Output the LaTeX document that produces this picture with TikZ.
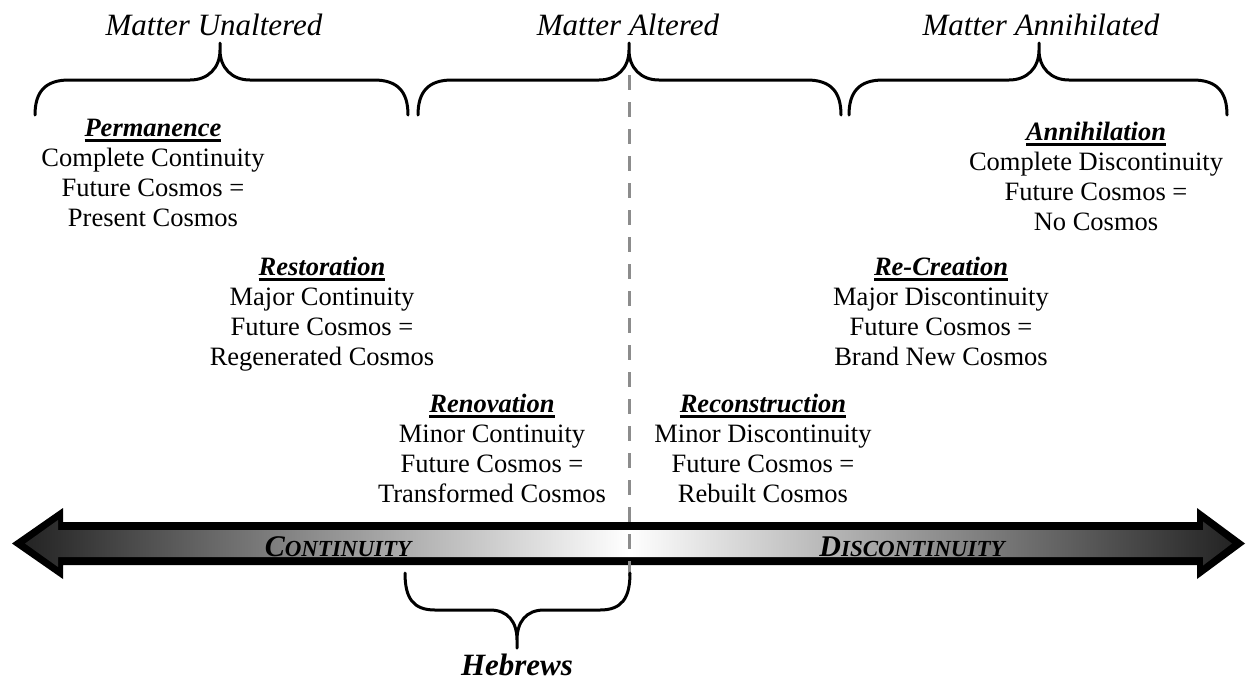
\documentclass[tikz,border=0pt]{standalone}
\usepackage{fontspec}
\setmainfont{Liberation Serif}
\newsavebox\ulbox
% bold italic heading with a thick rule under it
\newcommand\headword[1]{\sbox\ulbox{\bfseries\itshape #1}\rlap{\usebox\ulbox}\rule[-5.5pt]{\wd\ulbox}{2.6pt}}
% fake small caps: large initial, smaller remaining capitals
\newcommand\scword[2]{{\fontsize{30}{30}\selectfont #1}{\fontsize{23}{23}\selectfont #2}}
% curly brace opening downward: left x, right x, tip x
\newcommand\topbrace[3]{%
  \draw[brace] (#1,115) .. controls (#1,92) and ({#1+10},80) .. ({#1+34},80)
    -- ({#3-30},80) .. controls ({#3-12},80) and (#3,68) .. (#3,50) -- (#3,43)
    (#3,50) .. controls (#3,68) and ({#3+12},80) .. ({#3+30},80)
    -- ({#2-34},80) .. controls ({#2-10},80) and (#2,92) .. (#2,115);}
\begin{document}
\begin{tikzpicture}[x=1pt,y=-1pt,
  brace/.style={line width=3pt,line cap=round},
  toplabel/.style={font=\fontsize{31}{34}\selectfont\itshape,anchor=base,inner sep=0pt},
  block/.style={align=center,anchor=north,inner sep=0pt,font=\fontsize{26.5}{30}\selectfont},
  barlabel/.style={font=\bfseries\itshape,anchor=base,inner sep=0pt},
  divider/.style={draw=black!45,line width=3pt,dash pattern=on 15pt off 12pt}]
\useasboundingbox (0,0) rectangle (1247,681);

% headings over the braces
\node[toplabel] (unaltered) at (214,35) {Matter Unaltered};
\node[toplabel] (altered) at (628,35) {Matter Altered};
\node[toplabel] (annihilated) at (1041,35) {Matter Annihilated};

% the three upper braces
\topbrace{35}{408}{220}
\topbrace{418}{841}{629}
\topbrace{849}{1227}{1039}

% the six views
\node[block] (permanence) at (153,119) {\headword{Permanence}\\Complete Continuity\\Future Cosmos =\\Present Cosmos};
\node[block] (annihilation) at (1096,122) {\headword{Annihilation}\\Complete Discontinuity\\Future Cosmos =\\No Cosmos};
\node[block] (restoration) at (322,257) {\headword{Restoration}\\Major Continuity\\Future Cosmos =\\Regenerated Cosmos};
\node[block] (recreation) at (941,257) {\headword{Re-Creation}\\Major Discontinuity\\Future Cosmos =\\Brand New Cosmos};
\node[block] (renovation) at (492,394) {\headword{Renovation}\\Minor Continuity\\Future Cosmos =\\Transformed Cosmos};
\node[block] (reconstruction) at (763,394) {\headword{Reconstruction}\\Minor Discontinuity\\Future Cosmos =\\Rebuilt Cosmos};

% double-headed bar: black outline, grey-to-white shaded core
\fill[black] (12,543.5) -- (63,508) -- (63,522) -- (1197,522) -- (1197,508)
  -- (1245,543.5) -- (1197,579) -- (1197,565) -- (63,565) -- (63,579) -- cycle;
\shade[left color=black!86,right color=black!86,middle color=white]
  (25,543.5) -- (58,520) -- (58,530) -- (1203,530) -- (1203,521.5)
  -- (1232,543.5) -- (1203,565.5) -- (1203,557) -- (58,557) -- (58,567) -- cycle;
\node[barlabel] (continuity) at (338,556) {\scword{C}{ONTINUITY}};
\node[barlabel] (discontinuity) at (912,556) {\scword{D}{ISCONTINUITY}};

% central dividing line
\coordinate (divtop) at (629,75);
\coordinate (divbot) at (629,578);
\draw[divider] (divtop) -- (divbot);

% lower brace
\draw[brace] (405,573) .. controls (405,598) and (413,610) .. (435,610)
  -- (490,610) .. controls (508,610) and (517,622) .. (517,640) -- (517,648)
  (517,640) .. controls (517,622) and (526,610) .. (544,610)
  -- (600,610) .. controls (622,610) and (630,598) .. (630,573);
\node[font=\fontsize{31}{34}\selectfont\bfseries\itshape,anchor=base,inner sep=0pt] (hebrews) at (517,675) {Hebrews};
\end{tikzpicture}
\end{document}
